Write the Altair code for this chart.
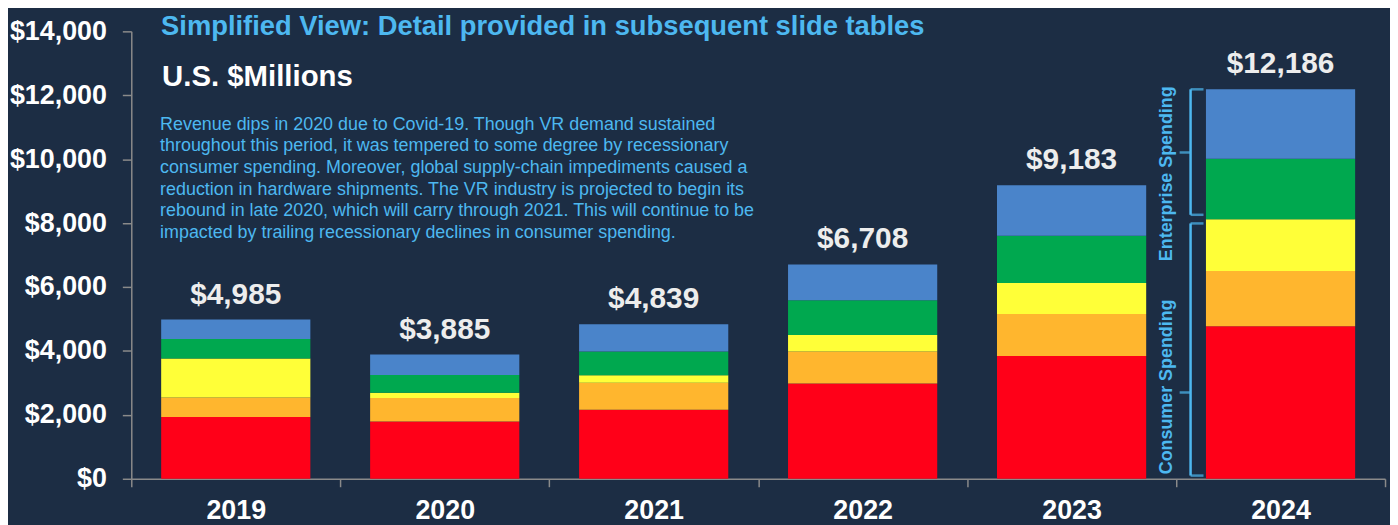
import altair as alt
import pandas as pd

# ---------------- data ----------------
years = ["2019", "2020", "2021", "2022", "2023", "2024"]
totals = [4985, 3885, 4839, 6708, 9183, 12186]
total_labels = ["$4,985", "$3,885", "$4,839", "$6,708", "$9,183", "$12,186"]

segments = ["Consumer A", "Consumer B", "Consumer C", "Enterprise A", "Enterprise B"]
seg_colors = ["#FF0018", "#FFB62E", "#FFFF38", "#00A84F", "#4A84CA"]
seg_red = [1935, 1790, 2163, 2980, 3839, 4770]
seg_orange = [605, 735, 838, 1004, 1314, 1728]
seg_yellow = [1220, 165, 238, 517, 972, 1624]
seg_green = [610, 560, 745, 1086, 1480, 1894]
seg_blue = [615, 635, 855, 1121, 1578, 2170]

y_ticks = [0, 2000, 4000, 6000, 8000, 10000, 12000, 14000]

title_text = "Simplified View: Detail provided in subsequent slide tables"
unit_text = "U.S. $Millions"
note_lines = [
    "Revenue dips in 2020 due to Covid-19. Though VR demand sustained",
    "throughout this period, it was tempered to some degree by recessionary",
    "consumer spending. Moreover, global supply-chain impediments caused a",
    "reduction in hardware shipments. The VR industry is projected to begin its",
    "rebound in late 2020, which will carry through 2021. This will continue to be",
    "impacted by trailing recessionary declines in consumer spending.",
]

bracket_names = ["Enterprise Spending", "Consumer Spending"]
bracket_year = ["2024", "2024"]
bracket_lo = [8260, 100]
bracket_hi = [12186, 7990]
bracket_mid = [10210, 2700]
bracket_text_y = [9545, 2876]

# ---------------- tables ----------------
series = [seg_red, seg_orange, seg_yellow, seg_green, seg_blue]
rows = []
for k, (name, vals) in enumerate(zip(segments, series)):
    for yr, v in zip(years, vals):
        rows.append({"year": yr, "segment": name, "value": v, "ord": k})
df = pd.DataFrame(rows)
df_tot = pd.DataFrame({"year": years, "total": totals, "label": total_labels})
df_br = pd.DataFrame({"year": bracket_year, "name": bracket_names, "lo": bracket_lo,
                      "hi": bracket_hi, "mid": bracket_mid, "ty": bracket_text_y})
one = pd.DataFrame({"d": [0]})

FONT = "Liberation Sans"
BLUE_TXT = "#4DB8F0"
AXIS_GRAY = "#8A8A8A"

x_axis = alt.Axis(title=None, labelAngle=0, labelFont=FONT, labelFontSize=27,
                  labelFontWeight="bold", labelColor="#FFFFFF", tickSize=8,
                  tickColor=AXIS_GRAY, domainColor=AXIS_GRAY, tickWidth=1.5,
                  domainWidth=1.5, tickBand="extent", labelPadding=11)
y_axis = alt.Axis(title=None, values=y_ticks, format="$,.0f", grid=False,
                  labelFont=FONT, labelFontSize=27, labelFontWeight="bold",
                  labelColor="#FFFFFF", tickSize=9, tickColor=AXIS_GRAY,
                  domainColor=AXIS_GRAY, tickWidth=1.5, domainWidth=1.5,
                  labelPadding=16)
x_scale = alt.Scale(domain=years, paddingInner=0, paddingOuter=0)
y_scale = alt.Scale(domain=[0, 14000], nice=False)

X = alt.X("year:N", scale=x_scale, axis=x_axis, sort=years)

bars = alt.Chart(df).mark_bar(width=alt.RelativeBandSize(0.714)).encode(
    x=X,
    y=alt.Y("value:Q", stack="zero", scale=y_scale, axis=y_axis),
    color=alt.Color("segment:N", scale=alt.Scale(domain=segments, range=seg_colors), legend=None),
    order=alt.Order("ord:Q", sort="ascending"),
)

tot_text = alt.Chart(df_tot).mark_text(
    font=FONT, fontSize=30, fontWeight="bold", color="#EDEDED",
    baseline="alphabetic", dy=-16
).encode(x=X, y=alt.Y("total:Q", scale=y_scale, axis=y_axis), text="label:N")

BR_COLOR = "#4DB8F0"
br_vert = alt.Chart(df_br).mark_rule(color=BR_COLOR, strokeWidth=2.5, xOffset=-90.5).encode(
    x=X, y=alt.Y("lo:Q", scale=y_scale, axis=y_axis), y2="hi:Q")
br_top = alt.Chart(df_br).mark_tick(color=BR_COLOR, thickness=2.5, size=13, orient="horizontal",
                                    xOffset=-84).encode(
    x=X, y=alt.Y("hi:Q", scale=y_scale, axis=y_axis))
br_bot = alt.Chart(df_br).mark_tick(color=BR_COLOR, thickness=2.5, size=13, orient="horizontal",
                                    xOffset=-84).encode(
    x=X, y=alt.Y("lo:Q", scale=y_scale, axis=y_axis))
br_nub = alt.Chart(df_br).mark_tick(color=BR_COLOR, thickness=2.5, size=11, orient="horizontal",
                                    xOffset=-96).encode(
    x=X, y=alt.Y("mid:Q", scale=y_scale, axis=y_axis))
br_text = alt.Chart(df_br).mark_text(
    font=FONT, fontSize=18, fontWeight="bold", color=BR_COLOR, angle=270,
    align="center", baseline="alphabetic", xOffset=-109
).encode(x=X, y=alt.Y("ty:Q", scale=y_scale, axis=y_axis), text="name:N")

title_mark = alt.Chart(one).mark_text(
    text=title_text, font=FONT, fontSize=27.5, fontWeight="bold", color=BLUE_TXT,
    align="left", baseline="alphabetic").encode(x=alt.value(30), y=alt.value(4))
unit_mark = alt.Chart(one).mark_text(
    text=unit_text, font=FONT, fontSize=29.5, fontWeight="bold", color="#FFFFFF",
    align="left", baseline="alphabetic").encode(x=alt.value(31), y=alt.value(55))
note_mark = alt.Chart(one).mark_text(
    text=note_lines, font=FONT, fontSize=18, color=BLUE_TXT, lineHeight=21.7,
    align="left", baseline="alphabetic").encode(x=alt.value(29), y=alt.value(99))

chart = alt.layer(
    bars, tot_text, br_vert, br_top, br_bot, br_nub, br_text,
    title_mark, unit_mark, note_mark
).properties(
    width=1261, height=450,
    padding={"left": 124, "top": 22, "right": 5, "bottom": 45},
    autosize=alt.AutoSizeParams(type="none"),
).configure(background="#1C2D44").configure_view(stroke=None)

chart.save("out.html", embed_options={"renderer": "svg", "actions": False})
